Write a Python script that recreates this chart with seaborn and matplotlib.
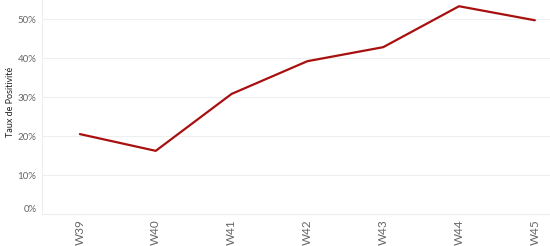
import matplotlib
matplotlib.use("Agg")
import matplotlib.pyplot as plt
import matplotlib.transforms as mtrans
import seaborn as sns
import pandas as pd
from matplotlib.ticker import FuncFormatter

weeks = ["W39", "W40", "W41", "W42", "W43", "W44", "W45"]
rates = [0.205, 0.162, 0.308, 0.392, 0.428, 0.533, 0.497]
yticks = [0.0, 0.1, 0.2, 0.3, 0.4, 0.5]

df = pd.DataFrame({"week": weeks, "rate": rates})
df["pos"] = range(len(weeks))

sns.set_theme(style="white")
plt.rcParams['font.family'] = ['Lato', 'DejaVu Sans']

fig = plt.figure(figsize=(5.5, 2.46), dpi=100)
ax = fig.add_axes([42/550, 1 - 214/246, 1 - 42/550, 214/246])

sns.lineplot(data=df, x="pos", y="rate", ax=ax, color="#a8100f", linewidth=1.6)

ax.set_xlim(-0.5, 6.2)
ax.set_ylim(0, 0.549)
ax.set_yticks(yticks)
ax.yaxis.set_major_formatter(FuncFormatter(lambda v, p: f"{v*100:.0f}%"))
ax.set_xticks(range(len(weeks)))
ax.set_xticklabels(weeks, rotation=90, fontsize=8.5, color="#666666")
ax.tick_params(axis="y", labelsize=7, colors="#666666", length=0, pad=4)
ax.tick_params(axis="x", length=0, pad=4)
ax.grid(axis="y", color="#efefef", linewidth=0.8)
ax.set_axisbelow(True)
for s in ["top", "right"]:
    ax.spines[s].set_visible(False)
ax.spines["left"].set_color("#eeeeee")
ax.spines["bottom"].set_color("#eeeeee")
ax.spines["left"].set_linewidth(0.8)
ax.spines["bottom"].set_linewidth(0.8)
ax.set_xlabel("")
ax.set_ylabel("")
fig.text(11/550, 1 - 102/246, "Taux de Positivité", rotation=90, fontsize=6.5,
         color="#222222", ha="center", va="center")

fig.canvas.draw()
lab0 = ax.get_yticklabels()[0]
lab0.set_transform(lab0.get_transform() + mtrans.ScaledTranslation(0, 5/100, fig.dpi_scale_trans))

fig.savefig("out.png", dpi=100)
